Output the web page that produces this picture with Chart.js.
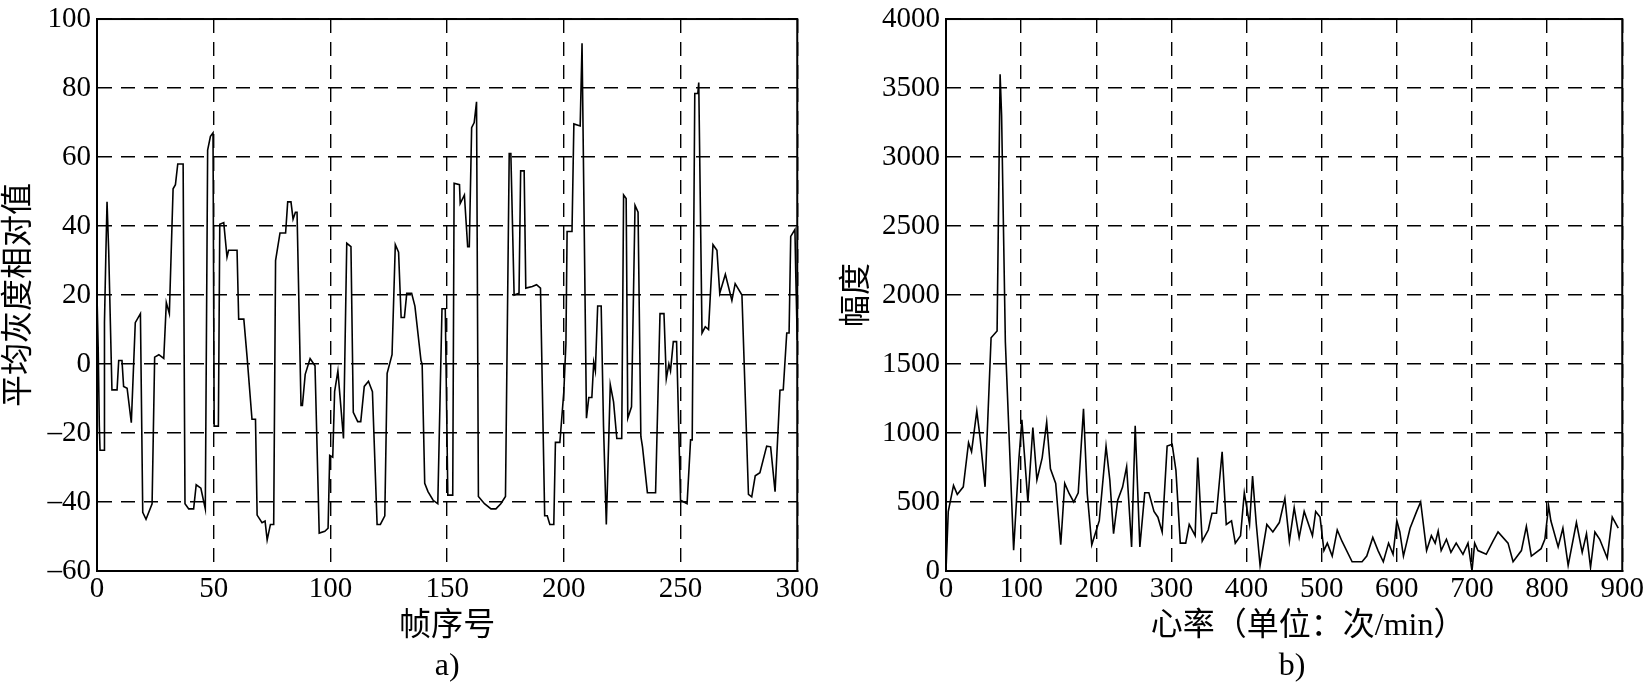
<!DOCTYPE html>
<html>
<head>
    <meta charset="UTF-8">
    <title>帧序号 / 心率</title>
    <script src="https://cdn.jsdelivr.net/npm/chart.js@4.4.0/dist/chart.umd.min.js"></script>
    <style type="text/css">
        body { margin:0px; padding:0px; background:#fff; }
        #wrap { position:relative; width:1649px; height:684px; overflow:hidden; }
        #wrap canvas { position:absolute; top:0px; }
        #chartA { left:0px; }
        #chartB { left:830px; }
    </style>
</head>
<body>
<div id="wrap">
    <canvas id="chartA" width="824" height="684"></canvas>
    <canvas id="chartB" width="819" height="684"></canvas>
</div>

<script type="text/javascript">
// a) mean gray value per frame
var frameIdx = [0, 0.5, 1, 1.3, 3, 3.2, 3.8, 4.3, 5, 6.4, 8.6, 9.3, 10.7, 11.4, 12.9, 14.7, 16.4, 18.6, 19.6, 21,
    23.6, 24.7, 26.5, 28.6, 29.7, 31, 32.6, 33.6, 34.6, 36.9, 37.7, 39.3, 41.4, 42.5, 44.5, 46.4, 47.4, 48.6, 49.7, 50.2,
    52, 52.6, 54.3, 55.7, 56.4, 60, 60.7, 62.9, 64.3, 66.4, 67.9, 68.6, 70.7, 72, 72.9, 74.3, 75.7, 76.5, 78.4, 80.8,
    81.7, 83.1, 84, 85, 85.7, 87.4, 88, 89.2, 91.3, 93.4, 95.2, 97.6, 99, 99.7, 101, 101.8, 103.2, 105.6, 107, 108.8,
    109.8, 111.7, 113, 114.5, 116.3, 118, 120, 121.4, 123.3, 124.3, 126.4, 127.8, 129.2, 130.3, 131.7, 132.7, 134.8, 136.2, 138.8, 139.3,
    140.4, 141.8, 144, 146, 147.8, 149.2, 150.3, 152.4, 153, 155.3, 155.6, 157.4, 158.8, 159.5, 160.5, 161.6, 162.6, 163.4, 166, 168.8,
    170.9, 173, 175, 176.6, 177.3, 178.7, 180.8, 181.5, 183, 183.7, 186.5, 188.3, 190, 191.8, 192.9, 194, 195.7, 196.4, 198.3, 200,
    200.9, 201.4, 203.5, 204.3, 207, 207.8, 209.7, 210.7, 212, 212.8, 213.5, 214.5, 216, 217, 218.2, 219.9, 221.3, 222.7, 224.8, 225.6,
    226.7, 227.4, 229, 230.5, 231.8, 233, 233.7, 235.8, 239.3, 241.2, 242.9, 243.9, 245, 245.7, 246.9, 248.3, 250, 252.8, 254.3, 255,
    256.1, 257.4, 257.8, 259.2, 260.6, 262, 263.9, 265.6, 266.8, 269.2, 272, 273.4, 276.3, 279.1, 280.5, 282, 284, 286.9, 288.6, 290.5,
    292.6, 294, 295.5, 296.5, 297.2, 299, 299.4, 300];
var grayValue = [20, 5, -18, -25, -25, 12, 32, 47, 33, -7.5, -7.5, 1, 1, -6.5, -7, -17, 12, 14.6, -43, -45,
    -40.5, 2, 2.7, 1.6, 17.8, 14.6, 50.8, 52, 58, 58, -40.5, -42, -42, -35, -36, -42, 62, 66, 67, -18,
    -18, 40.5, 41, 31, 33, 33, 13, 13, 2, -16, -16, -43.8, -46, -45.5, -51, -46.5, -46.5, 30, 38, 38,
    47, 47, 42, 44, 44, -12, -12, -3, 1.6, -0.5, -49, -48.5, -47.6, -26.5, -27, -8, -2, -21.6, 35, 34,
    -14, -16.7, -16.7, -6.5, -5, -8, -46.5, -46.5, -44, -2.7, 2.7, 34.6, 32.4, 13.5, 13.5, 20.5, 20.5, 16.8, 1, 0,
    -34.6, -37, -39.5, -40.5, 16, 16, -38, -38, 52.4, 52, 46.5, 49, 34, 34, 68.5, 70, 76, -38.4, -40.5, -42,
    -42, -40.5, -38.4, 61, 61, 20, 20.5, 56, 56, 22, 22.5, 23, 22, -44, -44, -46.5, -46.5, -22.7, -22.7, -8,
    6, 38.4, 38.4, 69.6, 69, 93, -15.7, -9.7, -9.7, 0.5, -2, 16.8, 16.8, -18, -46.5, -6, -11, -21.6, -21.6, 49,
    48, -15.7, -12.4, 46, 44, -21, -24, -37.3, -37.3, 14.6, 14.6, -4.3, 0, -2, 6.5, 6.5, -39.5, -40.5, -22, -22,
    78.4, 78.4, 81.6, 9, 10.8, 10, 34.6, 33, 20.5, 26, 18.4, 23.3, 20, -37.8, -38.5, -32.4, -31.5, -23.8, -24, -37,
    -7.6, -7.5, 9, 9, 37, 39, 25, 7];

// b) spectrum over heart rate
var heartRate = [0, 3, 10, 15, 23, 30, 34, 41, 45.5, 52, 60, 68, 72, 74, 79, 90, 97, 101, 109, 115.6,
    121, 128, 134, 139, 146, 152.7, 158, 164, 170, 176, 183, 188, 194, 204, 213, 218, 223, 228.5, 235, 240.4,
    247, 251.8, 258, 264.5, 270, 276.8, 282, 287.7, 294.3, 301, 306, 311.8, 319, 323.7, 331.6, 335, 341, 349, 354, 360,
    367.5, 373, 380, 385, 392, 397, 404, 408, 413, 418, 427, 435, 443.6, 451, 457, 463.4, 470, 476.7, 487.7, 492,
    497.8, 503, 507.5, 514, 520.7, 527, 540.5, 553.7, 560, 568, 575, 582, 589, 595, 600, 604, 608.8, 617.6, 626.4, 631.7,
    639.6, 646, 651, 655, 659, 666, 672, 679, 688, 694.7, 700, 703.6, 708, 719, 728, 734.7, 748, 754.7, 765.8, 772.4,
    779, 792, 797, 802, 805, 814.7, 821, 828, 839, 846.7, 852.4, 857.8, 863.6, 870, 880, 886.7, 894.7];
var amplitude = [0, 430, 620, 555, 610, 930, 865, 1160, 960, 610, 1690, 1740, 3600, 3300, 1660, 150, 810, 1095, 500, 1040,
    660, 820, 1080, 740, 635, 190, 635, 560, 500, 567, 1175, 560, 190, 365, 905, 660, 270, 513, 608, 756,
    175, 1053, 175, 567, 567, 432, 390, 283, 905, 918, 729, 202, 202, 337, 256, 823, 216, 297, 418, 418,
    864, 337, 364, 202, 256, 567, 337, 688, 337, 40, 337, 283, 351, 526, 216, 459, 243, 432, 256, 432,
    391, 148, 202, 108, 297, 216, 67, 67, 108, 243, 148, 67, 202, 121, 364, 283, 108, 310, 432, 500,
    148, 256, 202, 290, 148, 230, 135, 202, 121, 202, 0, 202, 148, 121, 216, 283, 202, 67, 148, 324,
    108, 162, 230, 472, 364, 175, 310, 40, 351, 135, 270, 27, 283, 230, 94, 391, 310];

var tickFont = { family: "'Liberation Serif', 'Times New Roman', serif", size: 29, lineHeight: 0.9 };
var titleFont = { family: "'Liberation Serif', 'Noto Sans CJK SC', serif", size: 32, lineHeight: 1.25 };

// closes the plot box on all four sides
var boxFrame = {
    id: 'boxFrame',
    afterDraw: function (chart) {
        var a = chart.chartArea;
        var ctx = chart.ctx;
        ctx.save();
        ctx.strokeStyle = '#000';
        ctx.lineWidth = 2;
        ctx.strokeRect(a.left, a.top, a.right - a.left, a.bottom - a.top);
        ctx.restore();
    }
};

function toPoints(xs, ys) {
    var pts = [];
    for (var i = 0; i < xs.length; i++) {
        pts.push({ x: xs[i], y: ys[i] });
    }
    return pts;
}

function makeChart(id, xs, ys, cfg) {
    var ctx = document.getElementById(id).getContext('2d');
    return new Chart(ctx, {
        type: 'line',
        data: {
            datasets: [{
                data: toPoints(xs, ys),
                borderColor: '#000',
                borderWidth: 1.6,
                pointRadius: 0,
                tension: 0,
                fill: false
            }]
        },
        plugins: [boxFrame],
        options: {
            responsive: false,
            animation: false,
            layout: { padding: { top: 13, right: cfg.padRight, left: 0, bottom: 0 } },
            plugins: { legend: { display: false }, tooltip: { enabled: false } },
            scales: {
                x: {
                    type: 'linear',
                    min: cfg.xMin, max: cfg.xMax,
                    afterFit: function (s) { s.height = 113; },
                    ticks: { stepSize: cfg.xStep, color: '#000', font: tickFont, padding: 5, maxRotation: 0, autoSkip: false },
                    grid: { color: '#000', lineWidth: 1.4, drawTicks: false },
                    border: { color: '#000', width: 2, dash: [14, 9] },
                    title: { display: true, text: cfg.xTitle, color: '#000', font: titleFont, padding: { top: 0, bottom: -3 } }
                },
                y: {
                    min: cfg.yMin, max: cfg.yMax,
                    afterFit: function (s) { s.width = cfg.yWidth; },
                    ticks: {
                        stepSize: cfg.yStep, color: '#000', font: tickFont, padding: 6,
                        callback: function (v) { return String(v).replace('-', '\u2013'); }
                    },
                    grid: { color: '#000', lineWidth: 1.4, drawTicks: false },
                    border: { color: '#000', width: 2, dash: [14, 9] },
                    title: { display: true, text: cfg.yTitle, color: '#000', font: titleFont, padding: { top: cfg.yTitlePad, bottom: 0 } }
                }
            }
        }
    });
}

var chartA = makeChart('chartA', frameIdx, grayValue, {
    xMin: 0, xMax: 300, xStep: 50, yMin: -60, yMax: 100, yStep: 20,
    xTitle: ['帧序号', 'a)'], yTitle: '平均灰度相对值',
    yWidth: 97, yTitlePad: 0, padRight: 22
});

// caption of b) sits a little right of the plot centre, hence the en spaces
var chartB = makeChart('chartB', heartRate, amplitude, {
    xMin: 0, xMax: 900, xStep: 100, yMin: 0, yMax: 4000, yStep: 500,
    xTitle: ['\u2002\u2002\u2002心率（单位：次/min）', '\u2002b)'], yTitle: '幅度',
    yWidth: 116, yTitlePad: 8, padRight: 23
});
</script>
</body>
</html>
